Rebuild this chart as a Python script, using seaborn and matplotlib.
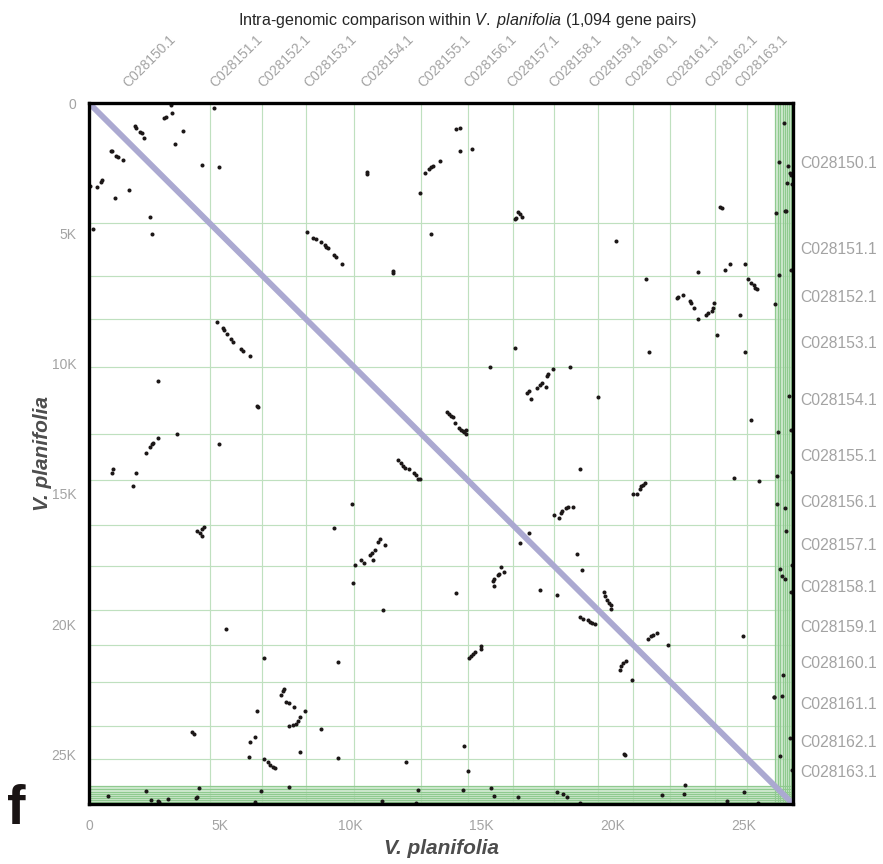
import matplotlib
matplotlib.use("Agg")
import matplotlib.pyplot as plt
import seaborn as sns
from matplotlib.ticker import FixedLocator, FuncFormatter

# ---- data (positions in thousands, genome order) ----
genome_len = 26.9

contig_names = ["C028150.1", "C028151.1", "C028152.1", "C028153.1", "C028154.1",
                "C028155.1", "C028156.1", "C028157.1", "C028158.1", "C028159.1",
                "C028160.1", "C028161.1", "C028162.1", "C028163.1"]
contig_starts = [0.0, 4.61, 6.62, 8.30, 10.14, 12.69, 14.47, 16.20, 17.75,
                 19.45, 20.78, 22.21, 23.92, 25.16]
contig_ends = [4.61, 6.62, 8.30, 10.14, 12.69, 14.47, 16.20, 17.75, 19.45,
               20.78, 22.21, 23.92, 25.16, 26.22]
# short unplaced scaffolds packed at the end of the genome
scaffold_bounds = [26.22, 26.32, 26.42, 26.51, 26.60, 26.67, 26.75, 26.83]

tick_values = [0, 5, 10, 15, 20, 25]

x_kb = [
    # upper left
    3.13, 4.79, 3.18, 2.87, 2.95, 1.76, 1.80, 1.95, 2.03, 2.12, 3.59, 3.30, 0.83, 0.89,
    1.03, 1.12, 1.29, 4.33, 4.98, 10.61, 10.63, 0.50, 0.46, 0.04, 0.32, 1.53, 1.01, 2.32,
    0.14, 2.40,
    8.34, 8.57, 8.66, 8.85, 9.00, 9.07, 9.13, 9.36, 9.43, 9.66,
    4.90, 5.12, 5.17, 5.27, 5.43, 5.50, 5.79, 5.87, 6.14,
    2.63,
    # upper right
    14.04, 14.16, 14.16, 14.65, 13.40, 12.85, 13.00, 13.07, 13.14, 12.66, 16.39, 16.26,
    16.32, 16.46, 16.56, 24.11, 24.18, 13.07, 20.13, 11.60, 11.63, 21.28, 23.28, 24.30,
    24.51, 25.05, 25.17, 25.30, 25.39, 25.45, 25.52, 22.46, 22.52, 22.69, 22.96, 23.00,
    23.13, 23.56, 23.67, 23.79, 23.84, 23.87, 23.28, 24.88, 23.98, 16.26, 21.40, 25.08,
    15.34, 18.39, 17.71, 17.54, 17.50, 17.32, 17.22, 17.13, 16.83, 16.72, 17.48,
    # lower right
    16.90, 19.43, 13.68, 13.77, 13.83, 13.89, 14.00, 14.15, 14.21, 14.28, 14.34, 14.41,
    14.41, 25.28, 18.75, 24.65, 25.61, 20.80, 20.92, 21.05, 21.11, 21.18, 21.24, 17.77,
    17.94, 18.02, 18.07, 18.24, 18.30, 18.49, 16.83, 16.48, 18.65, 18.85, 15.75, 15.85,
    15.68, 15.62, 15.49, 15.43, 15.47, 14.02, 17.25, 17.88, 19.66, 19.73, 19.81, 19.87,
    19.94, 19.96, 18.75, 18.89, 19.07, 19.16, 19.22, 19.35, 21.37, 21.47, 21.55, 21.72,
    22.11, 24.97, 14.53, 14.60, 14.66, 14.75, 14.96, 14.96, 20.28, 20.34, 20.40, 20.50,
    20.74, 26.16, 14.34, 14.47, 20.43, 20.47,
    # lower left
    6.40, 6.45, 3.38, 2.63, 2.46, 2.40, 2.34, 2.17, 4.98, 0.93, 0.89, 1.79, 1.70, 11.79,
    11.92, 11.98, 12.07, 12.24, 12.43, 12.49, 12.56, 12.66, 10.06, 9.36, 4.41, 4.32, 4.13,
    4.23, 4.32, 11.12, 11.06, 11.30, 10.93, 10.83, 10.72, 10.85, 10.38, 10.51, 10.17,
    10.08, 11.24, 5.25, 6.69, 9.50, 7.45, 7.41, 7.32, 7.51, 7.64, 7.83, 8.24, 8.08, 7.98,
    7.89, 7.79, 7.64, 6.41, 8.86, 3.95, 4.00, 6.36, 6.17, 6.10, 8.06, 9.51, 12.11, 6.70,
    6.83, 6.93, 7.04, 7.10,
    # hits on the short scaffolds (bottom band)
    0.71, 2.18, 2.35, 2.63, 2.68, 3.00, 4.09, 4.12, 4.19, 6.56, 6.36, 7.65, 11.21, 12.58,
    12.49, 14.30, 15.36, 15.49, 16.39, 17.87, 18.10, 18.25, 18.75, 21.90, 22.72, 22.77,
    24.38, 25.02, 25.58,
    # hits on the short scaffolds (right band)
    26.55, 26.35, 26.72, 26.80, 26.83, 26.68, 26.88, 26.64, 26.60, 26.25, 26.36, 26.81,
    26.22, 26.74, 26.32, 26.83, 26.30, 26.88, 26.27, 26.58, 26.62, 26.86, 26.42, 26.47,
    26.60, 26.81, 26.51, 26.16, 26.49, 26.80, 26.40, 26.86,
]

y_kb = [
    0.08, 0.20, 0.37, 0.56, 0.54, 0.88, 0.95, 1.10, 1.15, 1.34, 1.06, 1.58, 1.83, 1.85,
    2.03, 2.08, 2.18, 2.39, 2.46, 2.71, 2.66, 2.95, 3.01, 3.18, 3.23, 3.35, 3.65, 4.38,
    4.85, 5.03,
    4.95, 5.16, 5.22, 5.34, 5.44, 5.51, 5.57, 5.82, 5.91, 6.18,
    8.39, 8.63, 8.72, 8.86, 9.04, 9.17, 9.43, 9.50, 9.69,
    10.68,
    1.00, 0.96, 1.84, 1.76, 2.22, 2.68, 2.53, 2.45, 2.40, 3.44, 4.18, 4.46,
    4.42, 4.27, 4.37, 3.98, 4.04, 5.03, 5.30, 6.46, 6.51, 6.74, 6.48, 6.40,
    6.19, 6.16, 6.77, 6.90, 7.00, 7.08, 7.13, 7.48, 7.46, 7.38, 7.59, 7.66,
    7.87, 8.15, 8.06, 7.97, 7.87, 7.69, 8.29, 8.12, 8.89, 9.40, 9.57, 9.57,
    10.11, 10.11, 10.20, 10.39, 10.49, 10.74, 10.83, 10.93, 11.06, 11.14, 10.91,
    11.35, 11.28, 11.87, 11.93, 11.99, 12.06, 12.27, 12.46, 12.53, 12.59, 12.63, 12.69,
    12.55, 12.15, 14.06, 14.39, 14.51, 15.01, 14.99, 14.80, 14.71, 14.64, 14.59, 15.79,
    15.91, 15.75, 15.67, 15.53, 15.49, 15.51, 16.51, 16.89, 17.31, 17.93, 17.80, 17.98,
    18.08, 18.12, 18.28, 18.34, 18.53, 18.79, 18.70, 18.89, 18.76, 18.91, 19.07, 19.17,
    19.27, 19.40, 19.71, 19.78, 19.83, 19.91, 19.96, 20.00, 20.55, 20.45, 20.40, 20.32,
    20.78, 20.47, 21.28, 21.21, 21.16, 21.08, 20.96, 20.85, 21.75, 21.60, 21.49, 21.41,
    22.13, 22.81, 24.69, 25.62, 24.98, 25.02,
    11.64, 11.66, 12.69, 12.87, 13.04, 13.10, 13.19, 13.44, 13.10, 14.06, 14.19, 14.20,
    14.70, 13.70, 13.83, 13.91, 14.00, 14.06, 14.19, 14.29, 14.42, 14.42, 15.38, 16.30,
    16.27, 16.36, 16.42, 16.51, 16.62, 16.72, 16.85, 16.95, 17.15, 17.28, 17.34, 17.54,
    17.54, 17.64, 17.74, 18.43, 19.46, 20.17, 21.31, 21.44, 22.49, 22.55, 22.72, 23.00,
    23.04, 23.17, 23.32, 23.57, 23.73, 23.83, 23.87, 23.90, 23.32, 24.02, 24.13, 24.21,
    24.34, 24.53, 25.08, 24.92, 25.12, 25.30, 25.17, 25.30, 25.40, 25.49, 25.53,
    26.58, 26.40, 26.74, 26.79, 26.83, 26.72, 26.67, 26.64, 26.28, 26.41, 26.81, 26.26,
    26.77, 26.36, 26.86, 26.35, 26.30, 26.60, 26.64, 26.45, 26.50, 26.62, 26.86, 26.54,
    26.52, 26.17, 26.80, 26.42, 26.86,
    0.78, 2.25, 2.41, 2.67, 2.76, 3.08, 3.12, 4.13, 4.16, 4.23, 6.59, 6.40,
    7.70, 11.23, 12.62, 12.56, 14.32, 14.16, 15.38, 15.54, 16.44, 17.74, 17.89, 18.15,
    18.28, 18.76, 21.94, 22.81, 22.75, 24.38, 25.04, 25.58,
]

# ---- style ----
sns.set_theme(style="white")
plt.rcParams["font.family"] = ["Liberation Sans", "DejaVu Sans"]
plt.rcParams["mathtext.fontset"] = "custom"
plt.rcParams["mathtext.rm"] = "Liberation Sans"
plt.rcParams["mathtext.it"] = "Liberation Sans:italic"
plt.rcParams["mathtext.bf"] = "Liberation Sans:bold:italic"

grey_txt = "#a3a3a3"
grid_green = "#bfe0bf"
band_green = "#d3ebd3"
band_line = "#8fca8f"

fig = plt.figure(figsize=(8.83, 8.64), dpi=100)
ax = fig.add_axes([0.1008, 0.0694, 0.7973, 0.8113])

ax.set_xlim(0, genome_len)
ax.set_ylim(genome_len, 0)

# contig boundaries
for b in contig_ends[:-1]:
    ax.axvline(b, color=grid_green, lw=0.85, zorder=1)
    ax.axhline(b, color=grid_green, lw=0.85, zorder=1)

# band of short scaffolds
ax.axvspan(scaffold_bounds[0], genome_len, color=band_green, lw=0, zorder=0.5)
ax.axhspan(scaffold_bounds[0], genome_len, color=band_green, lw=0, zorder=0.5)
for b in scaffold_bounds:
    ax.axvline(b, color=band_line, lw=0.9, zorder=1)
    ax.axhline(b, color=band_line, lw=0.9, zorder=1)

# self-match diagonal
sns.lineplot(x=[0, genome_len], y=[0, genome_len], ax=ax, color="#aba9d1",
             lw=4.2, zorder=3, solid_capstyle="butt")

# gene pairs
sns.scatterplot(x=x_kb, y=y_kb, ax=ax, s=8.5, color="#1c1717", linewidth=0, zorder=4)

for side in ["top", "bottom", "left", "right"]:
    ax.spines[side].set_visible(True)
    ax.spines[side].set_color("black")
    ax.spines[side].set_linewidth(2.4)
    ax.spines[side].set_zorder(6)

ax.xaxis.set_major_locator(FixedLocator(tick_values))
ax.yaxis.set_major_locator(FixedLocator(tick_values))
fmt = FuncFormatter(lambda v, p: "0" if v == 0 else f"{int(v)}K")
ax.xaxis.set_major_formatter(fmt)
ax.yaxis.set_major_formatter(fmt)
ax.tick_params(axis="x", length=0, pad=11, labelsize=10, labelcolor=grey_txt)
ax.tick_params(axis="y", length=0, pad=9, labelsize=10, labelcolor=grey_txt)
ax.grid(False)

ax.set_xlabel("V. planifolia", fontsize=15, fontweight="bold", fontstyle="italic",
              color="#4d4d4d", labelpad=4)
ax.set_ylabel("V. planifolia", fontsize=15, fontweight="bold", fontstyle="italic",
              color="#4d4d4d", labelpad=0)

# contig names along the top and right
for name, s, e in zip(contig_names, contig_starts, contig_ends):
    mid = (s + e) / 2
    ax.text(mid, 1.06, name, transform=ax.get_xaxis_transform(), rotation=45,
            rotation_mode="anchor", ha="center", va="center", fontsize=10,
            color=grey_txt)
    ax.text(1.01, mid, name, transform=ax.get_yaxis_transform(), ha="left",
            va="center", fontsize=11.3, color=grey_txt)

fig.text(0.529, 1 - 20 / 864,
         r"Intra-genomic comparison within $\it{V.\ planifolia}$ (1,094 gene pairs)",
         ha="center", va="center", fontsize=11.6, color="#262626")

fig.text(0.008, 1 - 824 / 864, "f", fontsize=40, fontweight="bold", color="#1a1414",
         ha="left", va="baseline")

fig.savefig("out.png", dpi=100)
